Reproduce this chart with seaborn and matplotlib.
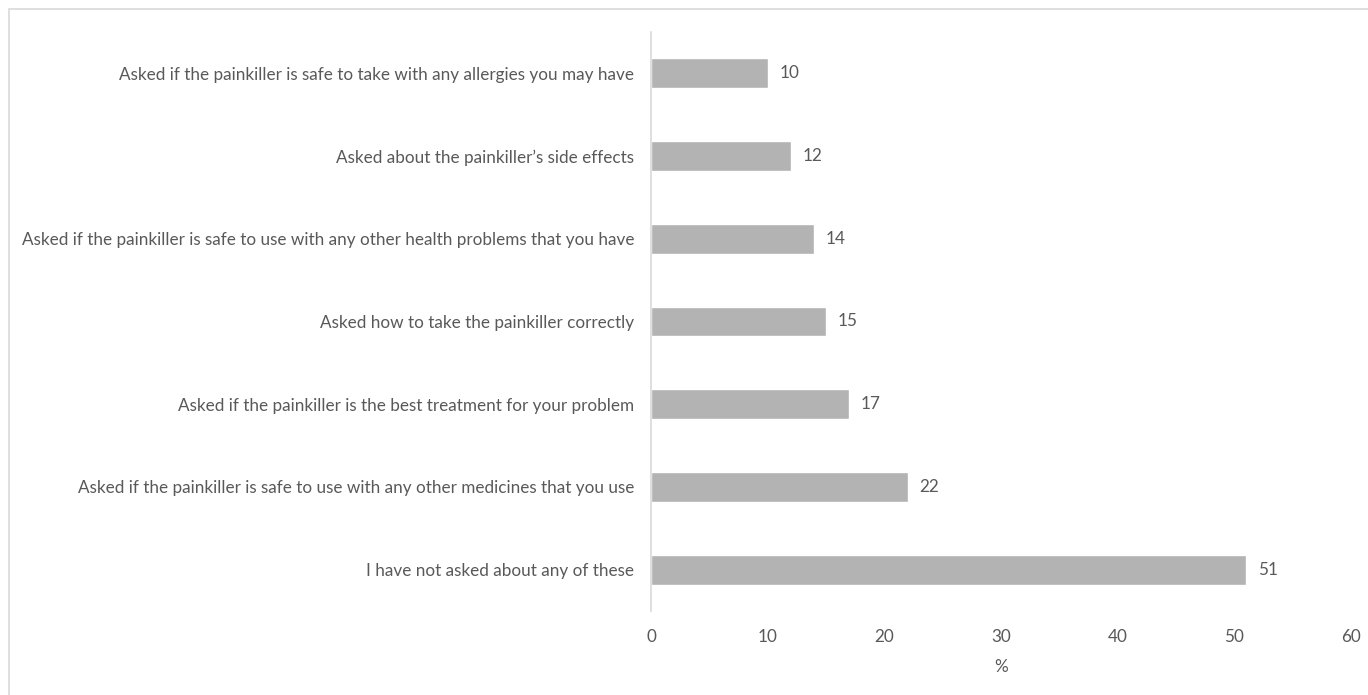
import matplotlib
matplotlib.use("Agg")
import matplotlib.pyplot as plt
import seaborn as sns
import pandas as pd
from matplotlib.patches import Rectangle

categories = [
    "Asked if the painkiller is safe to take with any allergies you may have",
    "Asked about the painkiller\u2019s side effects",
    "Asked if the painkiller is safe to use with any other health problems that you have",
    "Asked how to take the painkiller correctly",
    "Asked if the painkiller is the best treatment for your problem",
    "Asked if the painkiller is safe to use with any other medicines that you use",
    "I have not asked about any of these",
]
values = [10, 12, 14, 15, 17, 22, 51]
xticks = [0, 10, 20, 30, 40, 50, 60]

sns.set_theme(style="white")
plt.rcParams["font.family"] = ["Lato", "DejaVu Sans"]
txt = "#595959"
fs = 12.3

df = pd.DataFrame({"cat": categories, "val": values})
fig = plt.figure(figsize=(13.68, 6.95), dpi=100)
ax = fig.add_axes([651/1368, 1-611/695, 700/1368, 579/695])
sns.barplot(data=df, y="cat", x="val", orient="h", color="#b3b3b3",
            saturation=1, width=0.36, ax=ax)
ax.set_xlim(0, 60)
ax.set_ylim(6.5, -0.5)
ax.set_xticks(xticks)
ax.set_xticklabels([str(t) for t in xticks])
ax.tick_params(axis="both", length=0, colors=txt, labelsize=fs)
ax.tick_params(axis="x", pad=13)
ax.tick_params(axis="y", pad=12)
for s in ["top", "right", "bottom"]:
    ax.spines[s].set_visible(False)
ax.spines["left"].set_color("#d9d9d9")
ax.spines["left"].set_linewidth(1.2)
ax.set_ylabel("")
ax.set_xlabel("%", color=txt, fontsize=fs, labelpad=10)
for i, v in enumerate(values):
    ax.text(v + 1.0, i, str(v), va="center", ha="left", color=txt, fontsize=fs)

fig.patches.append(Rectangle((9/1368, -0.1), 1.2, 1-9/695+0.1, transform=fig.transFigure,
                             fill=False, edgecolor="#d9d9d9", linewidth=1.2, figure=fig))
fig.savefig("out.png", dpi=100)
